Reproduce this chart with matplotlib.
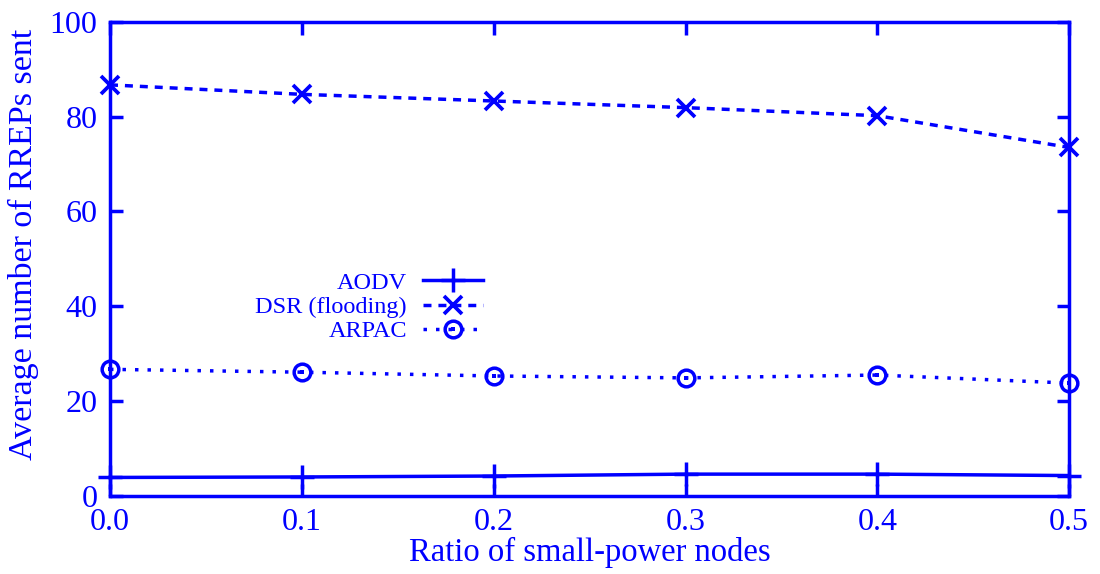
import matplotlib.pyplot as plt
from matplotlib.legend_handler import HandlerTuple

ratio = [0.0, 0.1, 0.2, 0.3, 0.4, 0.5]
aodv = [3.9, 4.0, 4.2, 4.6, 4.6, 4.3]
dsr = [86.7, 84.7, 83.3, 81.9, 80.2, 73.5]
arpac = [26.7, 26.1, 25.3, 24.9, 25.5, 23.8]

blue = "#0000ff"
plt.rcParams["font.family"] = ["Liberation Serif", "DejaVu Serif"]

fig = plt.figure(figsize=(11, 5.74), dpi=100)
ax = fig.add_axes([0.1, 0.136, 0.872, 0.826])

l1, = ax.plot(ratio, aodv, color=blue, lw=2.5, marker="+", ms=17, mew=2.5,
              linestyle="-", clip_on=False)
l2, = ax.plot(ratio, dsr, color=blue, lw=2.5, marker="x", ms=13, mew=2.7,
              linestyle=(0, (2.3, 2.0)), clip_on=False)
l3, = ax.plot(ratio, arpac, color=blue, lw=2.5, marker="o", ms=12, mew=2.5,
              fillstyle="none", linestyle=(0, (1.0, 2.6)), clip_on=False)
l3d, = ax.plot(ratio, arpac, color=blue, lw=0, marker="s", ms=2.5, mew=0,
               clip_on=False)

ax.set_xlim(0, 0.5)
ax.set_ylim(0, 100)
ax.set_xticks(ratio)
ax.set_xticklabels(["0.0", "0.1", "0.2", "0.3", "0.4", "0.5"])
ax.set_yticks([0, 20, 40, 60, 80, 100])

for s in ax.spines.values():
    s.set_color(blue)
    s.set_linewidth(2.5)
ax.tick_params(direction="in", length=9, width=2.5, color=blue,
               labelcolor=blue, labelsize=23, top=True, right=True, pad=9)

ax.set_xlabel("Ratio of small-power nodes", color=blue, fontsize=23.5, labelpad=0)
ax.set_ylabel("Average number of RREPs sent", color=blue, fontsize=24.5)
ax.yaxis.set_label_coords(-0.074, 0.53)

leg = ax.legend([l1, l2, (l3, l3d)], ["AODV", "DSR (flooding)", "ARPAC"],
                handler_map={tuple: HandlerTuple(ndivide=1)},
                loc="center right", bbox_to_anchor=(483 / 1100, 1 - 307 / 574),
                bbox_transform=fig.transFigure, frameon=False, markerfirst=False,
                fontsize=17.5, handlelength=2.47, labelspacing=0.1,
                borderpad=0, borderaxespad=0, handletextpad=0.66, numpoints=1)
for t in leg.get_texts():
    t.set_color(blue)
    t.set_ha("right")

fig.savefig("out.png", dpi=100)
